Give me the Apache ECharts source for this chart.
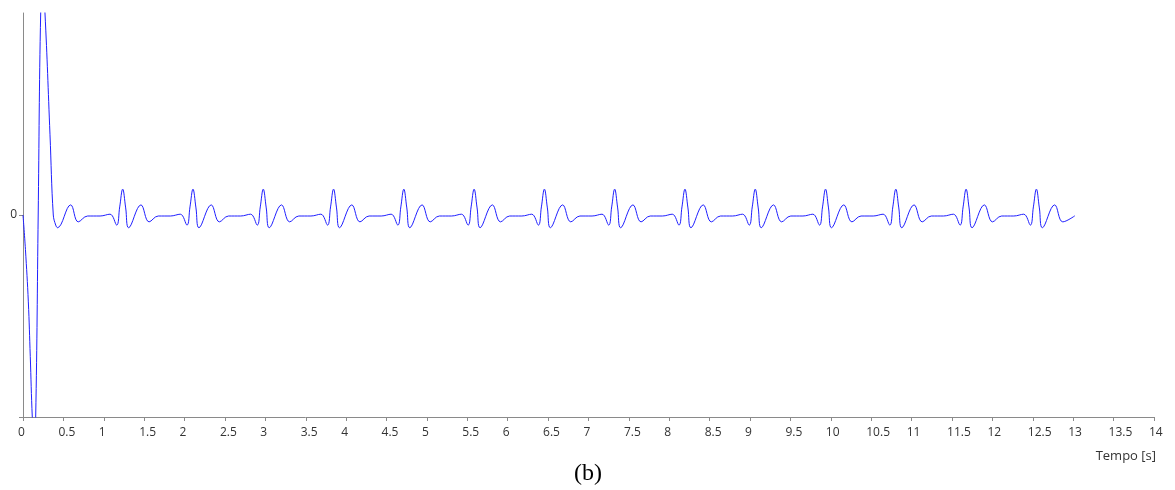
<!DOCTYPE html>
<html>
<head>
<meta charset="utf-8">
<script src="https://cdn.jsdelivr.net/npm/echarts@6/dist/echarts.min.js"></script>
<style>
html,body{margin:0;padding:0;background:#fff;}
#chart{width:1175px;height:490px;}
</style>
</head>
<body>
<div id="chart"></div>
<script>
// Time axis ticks (s)
var xTickLabels = ['0','0.5','1','1.5','2','2.5','3','3.5','4','4.5','5','5.5','6','6.5','7','7.5','8','8.5','9','9.5','10','10.5','11','11.5','12','12.5','13','13.5','14'];
var yTickLabels = ['0'];

// Signal samples: time [s]
var tempo = [
  0.000, 0.030, 0.066, 0.090, 0.115, 0.136, 0.157, 0.188, 0.219, 0.245, 0.272, 0.334, 0.375, 0.405, 0.427, 0.590, 0.684, 0.800,
  0.954, 1.077, 1.160, 1.197, 1.234, 1.271, 1.308, 1.460, 1.561, 1.674,
  1.824, 1.947, 2.030, 2.067, 2.104, 2.141, 2.178, 2.330, 2.431, 2.544,
  2.694, 2.817, 2.900, 2.937, 2.974, 3.011, 3.048, 3.200, 3.301, 3.414,
  3.564, 3.687, 3.770, 3.807, 3.844, 3.881, 3.918, 4.070, 4.171, 4.284,
  4.434, 4.557, 4.640, 4.677, 4.714, 4.751, 4.788, 4.940, 5.041, 5.154,
  5.304, 5.427, 5.510, 5.547, 5.584, 5.621, 5.658, 5.810, 5.911, 6.024,
  6.174, 6.297, 6.380, 6.417, 6.454, 6.491, 6.528, 6.680, 6.781, 6.894,
  7.044, 7.167, 7.250, 7.287, 7.324, 7.361, 7.398, 7.550, 7.651, 7.764,
  7.914, 8.037, 8.120, 8.157, 8.194, 8.231, 8.268, 8.420, 8.521, 8.634,
  8.784, 8.907, 8.990, 9.027, 9.064, 9.101, 9.138, 9.290, 9.391, 9.504,
  9.654, 9.777, 9.860, 9.897, 9.934, 9.971, 10.008, 10.160, 10.261, 10.374,
  10.524, 10.647, 10.730, 10.767, 10.804, 10.841, 10.878, 11.030, 11.131, 11.244,
  11.394, 11.517, 11.600, 11.637, 11.674, 11.711, 11.748, 11.900, 12.001, 12.114,
  12.264, 12.387, 12.470, 12.507, 12.544, 12.581, 12.618, 12.770, 12.871, 13.020
];
// Signal amplitude (normalised, axis shows -1..1, larger values are clipped)
var sinal = [
  0.000, -0.170, -0.430, -0.700, -1.000, -1.120, -1.000, 0.000, 1.000, 1.120, 1.000, 0.400, 0.000, -0.050, -0.063, 0.050, -0.034, -0.005,
  -0.005, 0.004, -0.050, 0.040, 0.128, 0.035, -0.063, 0.050, -0.034, -0.005,
  -0.005, 0.004, -0.050, 0.040, 0.128, 0.035, -0.063, 0.050, -0.034, -0.005,
  -0.005, 0.004, -0.050, 0.040, 0.128, 0.035, -0.063, 0.050, -0.034, -0.005,
  -0.005, 0.004, -0.050, 0.040, 0.128, 0.035, -0.063, 0.050, -0.034, -0.005,
  -0.005, 0.004, -0.050, 0.040, 0.128, 0.035, -0.063, 0.050, -0.034, -0.005,
  -0.005, 0.004, -0.050, 0.040, 0.128, 0.035, -0.063, 0.050, -0.034, -0.005,
  -0.005, 0.004, -0.050, 0.040, 0.128, 0.035, -0.063, 0.050, -0.034, -0.005,
  -0.005, 0.004, -0.050, 0.040, 0.128, 0.035, -0.063, 0.050, -0.034, -0.005,
  -0.005, 0.004, -0.050, 0.040, 0.128, 0.035, -0.063, 0.050, -0.034, -0.005,
  -0.005, 0.004, -0.050, 0.040, 0.128, 0.035, -0.063, 0.050, -0.034, -0.005,
  -0.005, 0.004, -0.050, 0.040, 0.128, 0.035, -0.063, 0.050, -0.034, -0.005,
  -0.005, 0.004, -0.050, 0.040, 0.128, 0.035, -0.063, 0.050, -0.034, -0.005,
  -0.005, 0.004, -0.050, 0.040, 0.128, 0.035, -0.063, 0.050, -0.034, -0.005,
  -0.005, 0.004, -0.050, 0.040, 0.128, 0.035, -0.063, 0.050, -0.034, -0.004
];
var xName = 'Tempo [s]';
var caption = '(b)';

var seriesData = tempo.map(function (t, i) { return [t, sinal[i]]; });

var chart = echarts.init(document.getElementById('chart'), null, {renderer: 'canvas'});
var axisGray = '#8a8a8a';
var labelColor = '#333333';
var labelFont = '"Open Sans", "DejaVu Sans", sans-serif';

chart.setOption({
  animation: false,
  backgroundColor: '#ffffff',
  grid: {left: 23, right: 21, top: 13, bottom: 73, containLabel: false},
  xAxis: {
    type: 'value',
    min: 0, max: 14, interval: 0.5,
    name: xName,
    nameLocation: 'end',
    nameGap: 2,
    nameTextStyle: {color: labelColor, fontFamily: labelFont, fontSize: 13, align: 'right', verticalAlign: 'top', padding: [33, 0, 0, 0]},
    axisLine: {onZero: false, lineStyle: {color: axisGray, width: 1}},
    axisTick: {show: true, length: 4, lineStyle: {color: axisGray}},
    splitLine: {show: false},
    axisLabel: {
      color: labelColor, fontFamily: labelFont, fontSize: 12, margin: 10,
      align: 'left', padding: [0, 0, 0, -5],
      formatter: function (v) { return xTickLabels[Math.round(v * 2)]; }
    }
  },
  yAxis: {
    type: 'value',
    min: -1, max: 1, interval: 1,
    axisLine: {show: true, lineStyle: {color: axisGray, width: 1}},
    axisTick: {show: true, length: 4, lineStyle: {color: axisGray}, customValues: [-1, 0]},
    splitLine: {show: false},
    axisLabel: {
      color: labelColor, fontFamily: labelFont, fontSize: 12, margin: 6,
      customValues: [0],
      formatter: function (v) { return v === 0 ? yTickLabels[0] : ''; }
    }
  },
  graphic: [{
    type: 'text', left: 591 - 17, top: 462,
    style: {text: caption, font: '24px "Liberation Serif", "DejaVu Serif", serif', fill: '#000'}
  }],
  series: [{
    type: 'line',
    data: seriesData,
    showSymbol: false,
    smooth: 0.4,
    clip: true,
    lineStyle: {color: '#1f1fff', width: 1},
    emphasis: {disabled: true}
  }]
});
</script>
</body>
</html>
